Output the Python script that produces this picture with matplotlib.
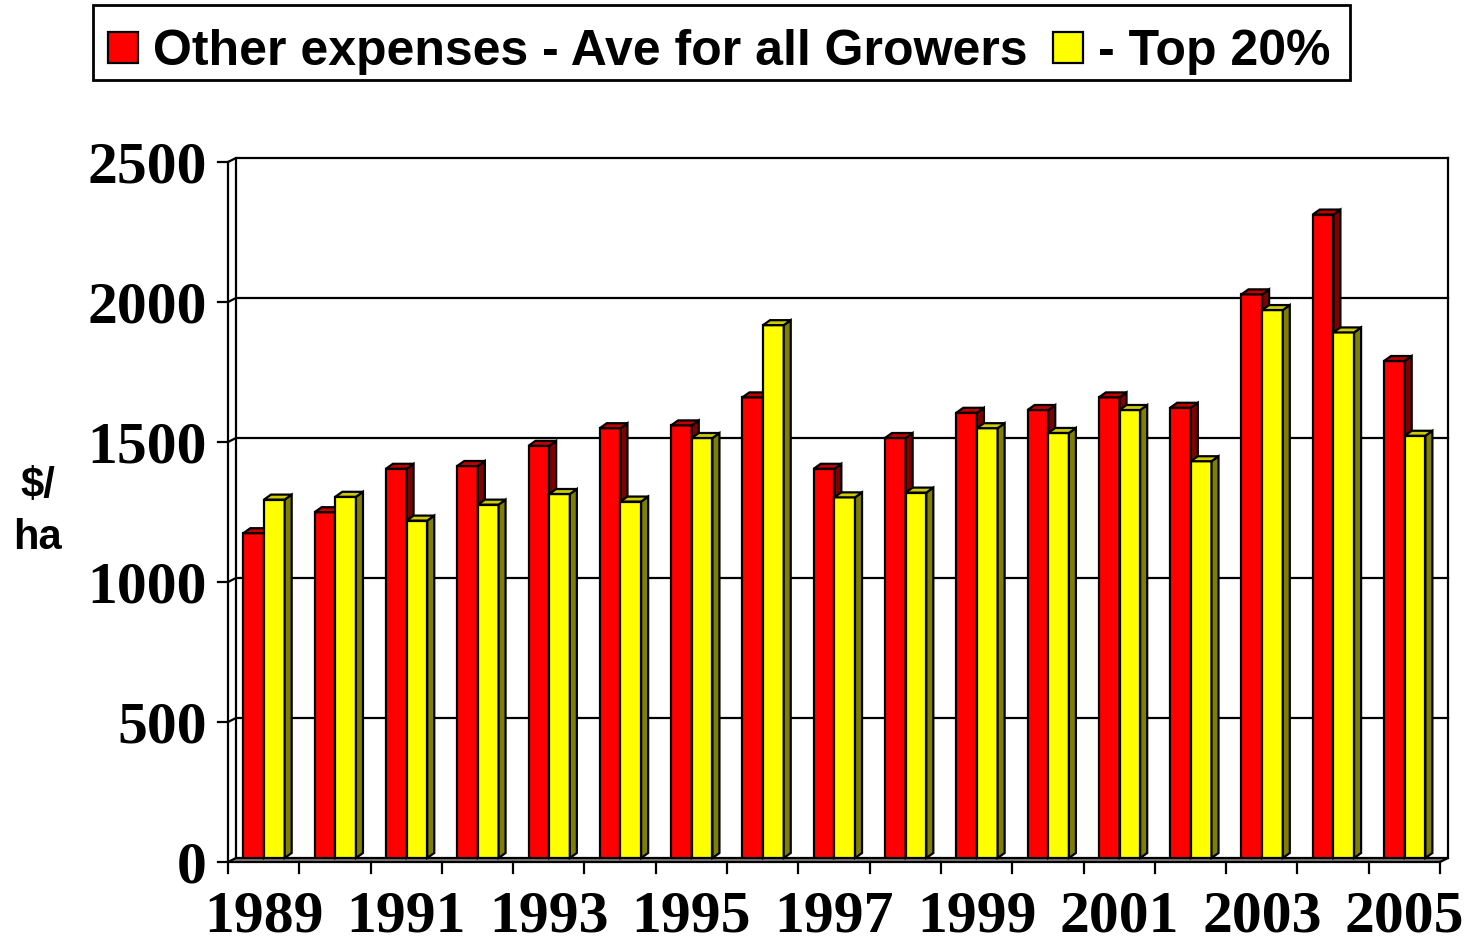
import numpy as np
import matplotlib.pyplot as plt
from matplotlib.patches import Polygon, Patch, Rectangle

years = list(range(1989, 2006))
avg_all = [1160, 1235, 1390, 1400, 1472, 1535, 1545, 1645, 1390, 1500,
           1590, 1600, 1645, 1608, 2013, 2298, 1775]
top20 = [1280, 1290, 1205, 1262, 1300, 1273, 1500, 1903, 1288, 1305,
         1535, 1518, 1600, 1417, 1957, 1877, 1508]
yticks = [0, 500, 1000, 1500, 2000, 2500]
labels = ['Other expenses - Ave for all Growers', '- Top 20%']

W, H = 1472, 944
fig = plt.figure(figsize=(W / 100, H / 100), dpi=100)
ax = fig.add_axes([228 / W, (H - 858) / H, 1212 / W, 700 / H])
n = len(years)
ax.set_xlim(0, n)
ax.set_ylim(0, 2500)
ax.axis('off')

# pixel -> data conversions for the fake 3d look
px_x = n / 1212
px_y = 2500 / 700
back_dx = 8 * px_x          # back wall shift to the right
front_dy = -4 * px_y        # front plane shift down
bdx, bdy = 7 * px_x, 5 * px_y   # bar depth

lw = 1.6
# floor
ax.add_patch(Polygon([(0, front_dy), (n, front_dy), (n + back_dx, 0), (back_dx, 0)],
                     closed=True, fc='#808080', ec='black', lw=lw, clip_on=False, zorder=1))
# walls / gridlines
ax.plot([back_dx, back_dx], [0, 2500], color='black', lw=lw, clip_on=False, zorder=1)
ax.plot([n + back_dx, n + back_dx], [0, 2500], color='black', lw=lw, clip_on=False, zorder=1)
ax.plot([0, 0], [front_dy, 2500 + front_dy], color='black', lw=lw, clip_on=False, zorder=1)
for v in yticks:
    ax.plot([-10 * px_x, 0], [v + front_dy, v + front_dy], color='black', lw=lw, clip_on=False, zorder=1)
    if v > 0:
        ax.plot([0, back_dx, n + back_dx], [v + front_dy, v, v], color='black', lw=lw,
                clip_on=False, zorder=1)
    ax.text(-21 * px_x, v + front_dy, str(v), ha='right', va='center_baseline',
            fontsize=43, fontweight='bold', family='Liberation Serif')

for i in range(n + 1):
    ax.plot([i, i], [front_dy, front_dy - 11 * px_y], color='black', lw=lw, clip_on=False, zorder=1)
for i, yr in enumerate(years):
    if yr % 2 == 1:
        ax.text(i + 0.5, front_dy - 69 * px_y, str(yr), ha='center', va='baseline',
                fontsize=43, fontweight='bold', family='Liberation Serif')

# bars
x = np.arange(n)
bw = 0.29
series = [(avg_all, 0.215, 'red', '#C00000', '#800000'),
          (top20, 0.505, 'yellow', '#CCCC00', '#808000')]
for i in range(n):
    for vals, off, fc, topc, sidec in series:
        x0 = x[i] + off
        v = vals[i]
        z = 3 + i * 2 + (1 if fc == 'yellow' else 0)
        ax.bar(x0, v, width=bw, align='edge', color=fc, edgecolor='black', lw=lw, zorder=z)
        ax.add_patch(Polygon([(x0 + bw, 0), (x0 + bw + bdx, bdy), (x0 + bw + bdx, v + bdy), (x0 + bw, v)],
                             closed=True, fc=sidec, ec='black', lw=lw, zorder=z, clip_on=False))
        ax.add_patch(Polygon([(x0, v), (x0 + bw, v), (x0 + bw + bdx, v + bdy), (x0 + bdx, v + bdy)],
                             closed=True, fc=topc, ec='black', lw=lw, zorder=z, clip_on=False))

fig.text(38 / W, 1 - 512 / H, '$/\nha', ha='center', va='center', fontsize=30,
         fontweight='bold', family='Liberation Sans', linespacing=1.4)

handles = [Patch(fc='red', ec='black', lw=lw), Patch(fc='yellow', ec='black', lw=lw)]
leg = fig.legend(handles, labels, loc='upper left', bbox_to_anchor=(93 / W, 1 - 14 / H),
                 ncol=2, prop={'family': 'Liberation Sans', 'weight': 'bold', 'size': 36},
                 frameon=False, borderpad=0.3,
                 handlelength=0.6, handleheight=0.6, handletextpad=0.3,
                 columnspacing=0.5, borderaxespad=0)
fig.patches.append(Rectangle((93 / W, 1 - 80 / H), (1350 - 93) / W, 75 / H,
                             transform=fig.transFigure, fill=False, ec='black', lw=2))

fig.savefig('out.png', dpi=100)
